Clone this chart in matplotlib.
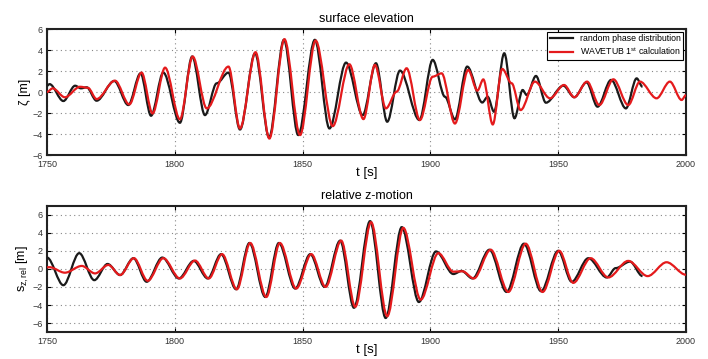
import matplotlib
matplotlib.use("Agg")
import matplotlib.pyplot as plt
from matplotlib.path import Path
from matplotlib.patches import PathPatch

plt.rcParams['font.family'] = ['Liberation Sans', 'DejaVu Sans']
plt.rcParams['mathtext.fontset'] = 'custom'
plt.rcParams['mathtext.rm'] = 'Liberation Sans'

# surface elevation, extrema (time [s], value [m])
elev_random_t = [1750, 1751, 1756.4, 1761, 1763.3, 1765.5, 1769.4, 1776.3, 1781.8, 1786.6, 1790.7,
                 1795.5, 1802, 1806.8, 1811.8, 1816.4, 1821, 1825.5, 1831.4, 1836.9, 1842.7,
                 1848.3, 1854.8, 1860.5, 1867, 1873.5, 1878.7, 1883.1, 1888.1, 1895.7, 1900.9,
                 1905.7, 1909.6, 1914.4, 1920.3, 1922.4, 1924.9, 1928.9, 1932.9, 1936.1, 1937.7,
                 1941.3, 1945.2, 1952.0, 1956.3, 1961.1, 1965.4, 1970.7, 1976.5, 1980.7, 1983]
elev_random_v = [0.6, 0.75, -0.86, 0.6, 0.35, 0.45, -0.83, 1.05, -1.24, 1.78, -2.26,
                 1.85, -2.93, 3.38, -2.2, 0.83, 1.85, -3.57, 3.69, -4.33, 4.97,
                 -4.1, 4.97, -3.47, 2.8, -2.2, 2.74, -2.83, 2.04, -2.67, 3.06,
                 -0.45, -2.6, 2.42, -1.0, -0.45, -1.88, 3.69, -2.5, 0.19, -0.29,
                 1.53, -1.02, 0.6, -0.5, 0.92, -1.4, 1.15, -1.56, 1.3, 0.5]
elev_wavetub_t = [1750, 1752.2, 1757, 1762.9, 1766, 1769.4, 1776.6, 1782.2, 1787, 1791.3, 1796.2,
                  1802, 1807, 1812.5, 1821, 1825.5, 1831.6, 1837, 1842.9, 1849, 1855.1,
                  1861.8, 1868.3, 1873.8, 1878.3, 1882.6, 1886.8, 1890.7, 1895.9, 1900.9, 1904.4,
                  1909.6, 1914.8, 1918.4, 1920.7, 1924.4, 1928.1, 1931.8, 1935.3, 1940.9, 1946.8,
                  1952.3, 1956.3, 1961.3, 1966.1, 1971.6, 1977.4, 1982, 1988.5, 1993.7, 1998.3, 2000]
elev_wavetub_v = [0.0, 0.35, -0.5, 0.5, 0.4, -0.67, 1.08, -1.18, 1.85, -2.04, 2.32,
                  -2.6, 3.38, -1.56, 2.42, -3.47, 3.79, -4.43, 5.03, -4.1, 4.9,
                  -3.25, 2.64, -2.58, 2.58, -1.56, 0.03, 2.26, -2.67, 1.46, 1.78,
                  -3.0, 2.1, 0.13, 1.2, -3.09, 2.2, 0.83, -1.72, 0.99, -0.6,
                  0.67, -0.5, 0.99, -1.24, 1.21, -1.24, 0.99, -0.6, 0.99, -0.76, -0.3]

# relative z-motion
zrel_random_t = [1750, 1756.4, 1762.6, 1768.5, 1773.7, 1778.6, 1783.8, 1789, 1795.1, 1801.6, 1807.4,
                 1812.9, 1818.1, 1824.0, 1829.2, 1835.4, 1840.7, 1847.1, 1853.0, 1858.6, 1864.7,
                 1870.1, 1876.4, 1882.5, 1888.8, 1895.5, 1902.2, 1909, 1912.2, 1916.5, 1923.1,
                 1929.8, 1936.6, 1943.3, 1950, 1955.3, 1961.8, 1969, 1972.5, 1978.1, 1983]
zrel_random_v = [1.27, -1.8, 1.76, -1.24, 0.56, -0.67, 1.2, -1.42, 1.27, -1.05, 0.9,
                 -1.05, 1.65, -2.25, 2.89, -3.11, 2.89, -2.17, 1.65, -1.99, 3.15,
                 -4.31, 5.32, -5.44, 4.65, -3.67, 1.95, -0.56, -0.22, -1.05, 2.14,
                 -2.55, 2.81, -2.47, 2.02, -1.42, 1.2, -0.94, 0.1, 0.82, -0.79]
zrel_wavetub_t = [1750, 1751, 1757, 1763.6, 1768.8, 1774, 1778.6, 1784, 1789.4, 1795.5, 1802, 1807.9,
                  1813.3, 1818.5, 1824.3, 1829.5, 1835.8, 1841.1, 1847.5, 1853.4, 1859.0, 1865.1,
                  1870.6, 1876.8, 1883.1, 1889.4, 1896.2, 1903.1, 1909, 1912.5, 1917, 1923.6,
                  1930.5, 1937.3, 1943.9, 1950.4, 1955.9, 1962.7, 1969.6, 1977.4, 1985, 1992.4, 2000]
zrel_wavetub_v = [0.19, 0.2, -0.41, 0.34, -0.49, 0.45, -0.67, 1.2, -1.31, 1.2, -1.05, 0.94,
                  -1.05, 1.65, -2.25, 2.89, -3.11, 2.89, -2.17, 1.65, -1.99, 3.15,
                  -4.2, 5.2, -5.25, 4.57, -3.41, 1.76, -0.3, -0.25, -1.05, 2.14,
                  -2.55, 2.81, -2.55, 2.02, -1.54, 1.2, -0.94, 0.9, -0.79, 0.75, -0.64]

BLACK = '#1a1a1a'
RED = '#e41a1c'


def smooth_path(ax, t, v, color, label):
    # bezier segments with flat tangents at every read-off extremum
    verts = [(t[0], v[0])]
    codes = [Path.MOVETO]
    for i in range(1, len(t)):
        dt = t[i] - t[i - 1]
        verts += [(t[i - 1] + dt / 3, v[i - 1]), (t[i] - dt / 3, v[i]), (t[i], v[i])]
        codes += [Path.CURVE4] * 3
    patch = PathPatch(Path(verts, codes), facecolor='none', edgecolor=color,
                      lw=1.6, transform=ax.transData, zorder=3)
    ax.add_patch(patch)
    ax.plot([], [], color=color, lw=1.6, label=label)


def style_axes(ax, ylim, yticks):
    ax.set_xlim(1750, 2000)
    ax.set_ylim(*ylim)
    ax.set_xticks(range(1750, 2001, 50))
    ax.set_yticks(yticks)
    ax.grid(True, color='#888888', linestyle=(0, (1, 3)), lw=0.8)
    ax.tick_params(direction='in', length=3, labelsize=6.5, labelcolor='#333333',
                   top=True, right=True, width=0.8)
    ax.tick_params(axis='x', pad=3.5)
    ax.tick_params(axis='y', pad=3)
    for s in ax.spines.values():
        s.set_linewidth(1.5)
        s.set_color('#222222')


fig = plt.figure(figsize=(7.08, 3.59), dpi=100)
ax1 = fig.add_axes([0.0664, 0.5682, 0.9025, 0.351])
ax2 = fig.add_axes([0.0664, 0.0752, 0.9025, 0.351])

smooth_path(ax1, elev_random_t, elev_random_v, BLACK, 'random phase distribution')
smooth_path(ax1, elev_wavetub_t, elev_wavetub_v, RED, r'WAVETUB 1$\mathregular{^{st}}$ calculation')
style_axes(ax1, (-6, 6), range(-6, 7, 2))
ax1.set_title('surface elevation', fontsize=9, pad=5)
ax1.set_xlabel('t [s]', fontsize=9.5, labelpad=-1)
ax1.set_ylabel('ζ [m]', fontsize=9, labelpad=1)
leg = ax1.legend(loc='upper right', fontsize=6.3, fancybox=False, framealpha=1,
                 edgecolor='black', borderaxespad=0.3, handlelength=2.6,
                 borderpad=0.3, labelspacing=0.25)
leg.get_frame().set_linewidth(0.8)

smooth_path(ax2, zrel_random_t, zrel_random_v, BLACK, 'random phase distribution')
smooth_path(ax2, zrel_wavetub_t, zrel_wavetub_v, RED, 'WAVETUB 1st calculation')
style_axes(ax2, (-7, 7), range(-6, 7, 2))
ax2.set_title('relative z-motion', fontsize=9, pad=5)
ax2.set_xlabel('t [s]', fontsize=9.5, labelpad=-1)
ax2.set_ylabel(r'$\mathregular{s_{z,rel}}$ [m]', fontsize=9, labelpad=1)

fig.savefig('out.png', dpi=100)
